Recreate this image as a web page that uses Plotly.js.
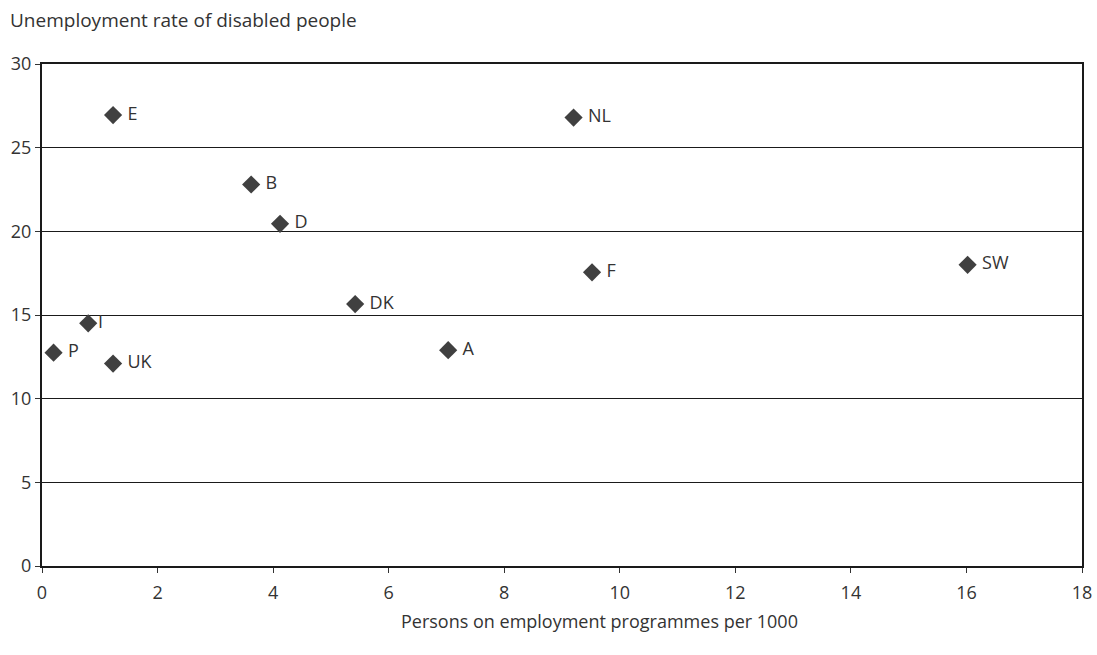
<!DOCTYPE html>
<html>
<head>
<meta charset="utf-8">
<script src="https://cdn.plot.ly/plotly-3.0.1.min.js"></script>
<style>html,body{margin:0;padding:0;background:#fff;}#chart{width:1097px;height:655px;}</style>
</head>
<body>
<div id="chart"></div>
<script>
const countries = ["E", "NL", "B", "D", "SW", "F", "DK", "I", "P", "A", "UK"];
const programmesPer1000 = [1.23, 9.2, 3.62, 4.12, 16.02, 9.52, 5.42, 0.8, 0.2, 7.03, 1.23];
const unemploymentRate = [26.95, 26.8, 22.8, 20.45, 18.0, 17.55, 15.65, 14.5, 12.75, 12.9, 12.1];
const labelPositions = ["middle right", "middle right", "middle right", "middle right", "middle right", "middle right", "middle right", "middle right", "middle right", "middle right", "middle right"];
const labelPads = [" ", " ", " ", " ", " ", " ", " ", "", " ", " ", " "];
const xTicks = [0, 2, 4, 6, 8, 10, 12, 14, 16, 18];
const yTicks = [0, 5, 10, 15, 20, 25, 30];

const trace = {
  type: "scatter",
  mode: "markers+text",
  x: programmesPer1000,
  y: unemploymentRate,
  text: countries.map((c, i) => labelPads[i] + c),
  textposition: labelPositions,
  textfont: {family: "Open Sans, sans-serif", size: 18, color: "#333333"},
  marker: {symbol: "diamond", size: 14, color: "#404040"},
  cliponaxis: false,
  hoverinfo: "none"
};

const layout = {
  width: 1097, height: 655,
  margin: {l: 42, r: 15, t: 64, b: 89},
  paper_bgcolor: "#ffffff", plot_bgcolor: "#ffffff",
  showlegend: false,
  font: {family: "Open Sans, sans-serif", size: 18, color: "#333333"},
  xaxis: {
    range: [0, 18], tickvals: xTicks, ticktext: xTicks.map(String),
    showgrid: false, zeroline: false,
    showline: true, linecolor: "#1a1a1a", linewidth: 2, mirror: true,
    ticks: "outside", ticklen: 5, tickcolor: "#333333", tickwidth: 1,
    ticklabelstandoff: 4,
    tickfont: {size: 18, color: "#333333"}
  },
  yaxis: {
    range: [0, 30], tickvals: yTicks, ticktext: yTicks.map(String),
    showgrid: true, gridcolor: "#1a1a1a", gridwidth: 1, zeroline: false,
    showline: true, linecolor: "#1a1a1a", linewidth: 2, mirror: true,
    ticks: "outside", ticklen: 5, tickcolor: "#333333", tickwidth: 1,
    tickfont: {size: 18, color: "#333333"}
  },
  annotations: [{
    text: "Unemployment rate of disabled people",
    xref: "paper", yref: "paper", x: 0, xshift: -34, y: 1.0, yshift: 44,
    xanchor: "left", yanchor: "middle", showarrow: false,
    font: {size: 19, color: "#333333"}
  }, {
    text: "Persons on employment programmes per 1000",
    xref: "paper", yref: "paper", x: 0.5365, y: 0, yshift: -55,
    xanchor: "center", yanchor: "middle", showarrow: false,
    font: {size: 18, color: "#333333"}
  }]
};

Plotly.newPlot("chart", [trace], layout, {displayModeBar: false, staticPlot: true});
</script>
</body>
</html>
